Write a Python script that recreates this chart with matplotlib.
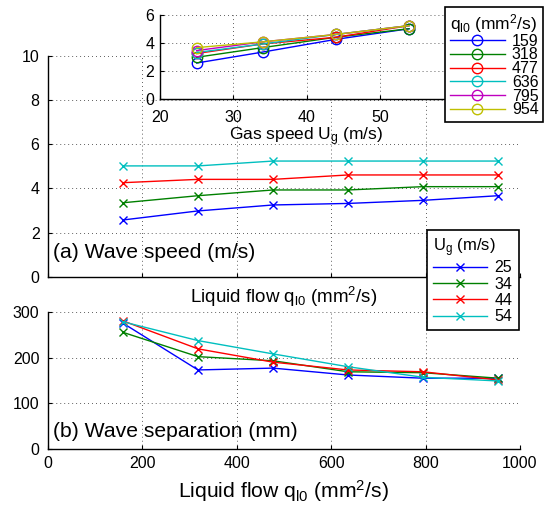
import numpy as np
import matplotlib
matplotlib.use("Agg")
import matplotlib.pyplot as plt

plt.rcParams['font.family'] = ['Liberation Sans', 'DejaVu Sans']
plt.rcParams['mathtext.default'] = 'regular'

# liquid flow q_l0 (mm^2/s) and gas speed U_g (m/s)
q_l0 = [159, 318, 477, 636, 795, 954]
u_g = [25, 34, 44, 54]

# wave speed (m/s), one row per gas speed
speed_25 = [2.57, 2.98, 3.25, 3.32, 3.46, 3.67]
speed_34 = [3.35, 3.67, 3.93, 3.93, 4.08, 4.08]
speed_44 = [4.26, 4.41, 4.41, 4.61, 4.61, 4.61]
speed_54 = [5.02, 5.02, 5.24, 5.24, 5.24, 5.24]

# wave separation (mm), one row per gas speed
sep_25 = [275, 173, 177, 162, 155, 155]
sep_34 = [255, 202, 193, 169, 167, 155]
sep_44 = [280, 219, 190, 173, 169, 151]
sep_54 = [278, 237, 208, 180, 157, 149]

speeds = [speed_25, speed_34, speed_44, speed_54]
seps = [sep_25, sep_34, sep_44, sep_54]

ml_colors = [(0, 0, 1), (0, 0.5, 0), (1, 0, 0), (0, 0.75, 0.75),
             (0.75, 0, 0.75), (0.75, 0.75, 0)]

grid_kw = dict(color='k', linestyle=(0, (1, 4.2)), linewidth=0.55)


def style(ax, ypad=6, xpad=5):
    for s in ['top', 'right']:
        ax.spines[s].set_visible(False)
    for s in ['left', 'bottom']:
        ax.spines[s].set_linewidth(1.0)
    ax.tick_params(direction='in', length=3, width=0.8, labelsize=11.5)
    ax.tick_params(axis='y', pad=ypad)
    ax.tick_params(axis='x', pad=xpad)
    ax.grid(True, **grid_kw)
    ax.set_axisbelow(True)


fig = plt.figure(figsize=(5.53, 5.13), dpi=100)

ax_a = fig.add_axes([47.9 / 553, 1 - 276.7 / 513, 472 / 553, 220.7 / 513])
ax_b = fig.add_axes([47.9 / 553, 1 - 449.3 / 513, 472 / 553, 137.6 / 513])
ax_in = fig.add_axes([160 / 553, 1 - 99 / 513, 293 / 553, 84 / 513])

# (a) wave speed
for k in range(len(u_g)):
    ax_a.plot(q_l0, speeds[k], '-x', color=ml_colors[k], lw=1.0, ms=6,
              mew=1.0, label=str(u_g[k]))
ax_a.set_xlim(0, 1000)
ax_a.set_ylim(0, 10)
ax_a.set_xticks(range(0, 1001, 200))
ax_a.set_xticklabels([])
ax_a.set_yticks(range(0, 11, 2))
style(ax_a)
ax_a.set_xlabel(r'Liquid flow q$_{l0}$ (mm$^2$/s)', fontsize=13.5, labelpad=1)
ax_a.text(0.011, 0.083, '(a) Wave speed (m/s)', transform=ax_a.transAxes,
          fontsize=15.2, va='baseline', ha='left')

# (b) wave separation
for k in range(len(u_g)):
    ax_b.plot(q_l0, seps[k], '-x', color=ml_colors[k], lw=1.0, ms=6, mew=1.0)
ax_b.set_xlim(0, 1000)
ax_b.set_ylim(0, 300)
ax_b.set_xticks(range(0, 1001, 200))
ax_b.set_yticks(range(0, 301, 100))
style(ax_b)
ax_b.set_xlabel(r'Liquid flow q$_{l0}$ (mm$^2$/s)', fontsize=15.2, labelpad=5)
ax_b.text(0.011, 0.092, '(b) Wave separation (mm)', transform=ax_b.transAxes,
          fontsize=15.2, va='baseline', ha='left')

# inset: wave speed against gas speed
in_lines = []
for j in range(len(q_l0)):
    col = [speeds[k][j] for k in range(len(u_g))]
    ln, = ax_in.plot(u_g, col, '-o', color=ml_colors[j], lw=1.0, ms=7.5,
                     mfc='none', mew=1.0, label=str(q_l0[j]))
    in_lines.append(ln)
ax_in.set_xlim(20, 60)
ax_in.set_ylim(0, 6)
ax_in.set_xticks(range(20, 61, 10))
ax_in.set_yticks(range(0, 7, 2))
style(ax_in, ypad=4, xpad=8)
ax_in.set_xlabel(r'Gas speed U$_g$ (m/s)', fontsize=12.5, labelpad=0)

leg_kw = dict(fontsize=11.5, frameon=True, fancybox=False,
              edgecolor='k', framealpha=1, numpoints=1, handlelength=3.4,
              handletextpad=0.45, borderaxespad=0, alignment='left')

leg1 = fig.legend(handles=in_lines, title=r'q$_{l0}$ (mm$^2$/s)',
                  title_fontsize=12.5,
                  loc='upper right', bbox_to_anchor=(543.3 / 553, 1 - 7.3 / 513),
                  labelspacing=-0.08, borderpad=0.3, **leg_kw)
leg1.get_frame().set_linewidth(1.2)

leg2 = fig.legend(handles=ax_a.get_lines(), title=r'U$_g$ (m/s)',
                  title_fontsize=12,
                  loc='upper left', bbox_to_anchor=(426.7 / 553, 1 - 230 / 513),
                  labelspacing=0.08, borderpad=0.4, **leg_kw)
leg2.get_frame().set_linewidth(1.2)

fig.savefig('out.png', dpi=100)
